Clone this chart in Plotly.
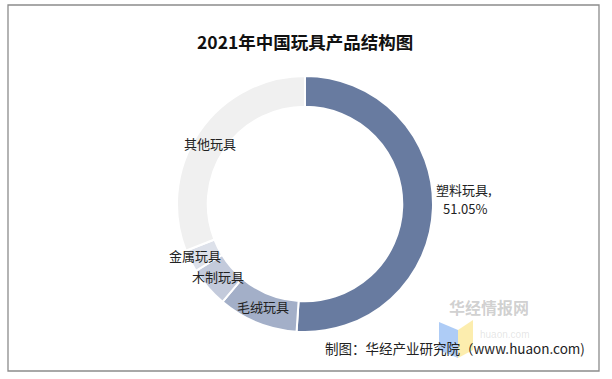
import plotly.graph_objects as go

categories = ["塑料玩具", "毛绒玩具", "木制玩具", "金属玩具", "其他玩具"]
shares = [51.05, 10.1, 5.1, 2.8, 30.95]
colors = ["#687BA0", "#A3AFC8", "#C3CADB", "#DDE1EA", "#F0F0F0"]
label_text = ["塑料玩具,", "51.05%", "毛绒玩具", "木制玩具", "金属玩具", "其他玩具"]
label_pos = [(464, 189), (465, 208), (263, 306), (218, 276), (195, 255), (210, 143)]

W, H = 612, 379
cx, cy, r = 305, 204, 128

fig = go.Figure()
fig.add_trace(go.Pie(
    labels=categories, values=shares, sort=False, direction="clockwise", rotation=0,
    hole=0.76, textinfo="none", hoverinfo="label+percent",
    marker=dict(colors=colors, line=dict(color="white", width=2)),
    domain=dict(x=[(cx - r) / W, (cx + r) / W], y=[1 - (cy + r) / H, 1 - (cy - r) / H]),
    showlegend=False,
))

for t, (x, y) in zip(label_text, label_pos):
    fig.add_annotation(x=x / W, y=1 - y / H, xref="paper", yref="paper", text=t,
                       showarrow=False, xanchor="center", yanchor="middle", align="center",
                       borderpad=0, font=dict(family="Noto Sans CJK SC", size=13, color="#222222"))

fig.add_annotation(x=305 / W, y=1 - 27 / H, xref="paper", yref="paper",
                   text="<b>2021年中国玩具产品结构图</b>", showarrow=False,
                   font=dict(family="Noto Sans CJK SC", size=17.5, color="#111111"))

# watermark logo
fig.add_shape(type="path", xref="paper", yref="paper", layer="above",
              path=f"M {439/W} {1-322/H} L {458/W} {1-330/H} L {458/W} {1-358/H} L {439/W} {1-350/H} Z",
              fillcolor="rgba(120,170,240,0.6)", line=dict(width=0))
fig.add_shape(type="path", xref="paper", yref="paper", layer="above",
              path=f"M {458/W} {1-330/H} L {473/W} {1-320/H} L {473/W} {1-350/H} L {458/W} {1-358/H} Z",
              fillcolor="rgba(250,225,120,0.6)", line=dict(width=0))
fig.add_annotation(x=530 / W, y=1 - 320 / H, xref="paper", yref="paper", text="<b>华经情报网</b>",
                   showarrow=False, borderpad=0,
                   font=dict(family="Noto Sans CJK SC", size=16, color="rgba(150,150,150,0.45)"))
fig.add_annotation(x=530 / W, y=1 - 341 / H, xref="paper", yref="paper", text="huaon.com",
                   showarrow=False, borderpad=0,
                   font=dict(family="Liberation Sans", size=10, color="rgba(170,170,170,0.3)"))

fig.add_annotation(x=586 / W, y=1 - 359 / H, xref="paper", yref="paper", xanchor="right",
                   text="制图：华经产业研究院（www.huaon.com)", showarrow=False, borderpad=0,
                   font=dict(family="Noto Sans CJK SC", size=13.5, color="#222222"))

# outer frame
fig.add_shape(type="rect", xref="paper", yref="paper", x0=8 / W, x1=599 / W, y0=1 - 371 / H, y1=1 - 5 / H,
              line=dict(color="#8C8C8C", width=1.3))

fig.update_layout(width=W, height=H, margin=dict(l=0, r=0, t=0, b=0),
                  paper_bgcolor="white", plot_bgcolor="white")
fig.write_html("out.html", config={"displayModeBar": False},
               post_script="document.body.style.margin='0';document.body.style.overflow='hidden';")
